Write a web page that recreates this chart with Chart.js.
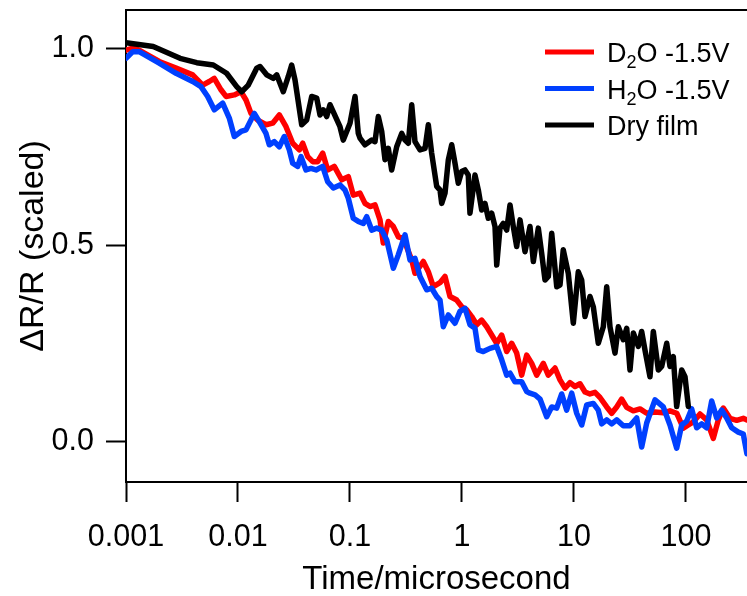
<!DOCTYPE html>
<html>
<head>
<meta charset="utf-8">
<script src="https://cdn.jsdelivr.net/npm/chart.js@4/dist/chart.umd.min.js"></script>
<style>
  html, body { margin: 0; padding: 0; background: #fff; }
  #wrap { width: 747px; height: 596px; }
</style>
</head>
<body>
<div id="wrap"><canvas id="c" width="747" height="596"></canvas></div>
<script>
// ---- Data (time in microseconds, signal = ΔR/R scaled) ----
const seriesLabels = ['D₂O -1.5V', 'H₂O -1.5V', 'Dry film'];
const seriesColors = ['#ff0000', '#0040ff', '#000000'];

const d2oTime = [
  0.001, 0.00115, 0.00131, 0.00198, 0.0028, 0.00394, 0.00484, 0.00554, 0.00614, 0.00705,
  0.00782, 0.00927, 0.01064, 0.01179, 0.01307, 0.01499, 0.01778, 0.0204, 0.02338, 0.02683,
  0.03079, 0.03527, 0.03782, 0.04192, 0.04645, 0.05148, 0.05704, 0.0632, 0.0724, 0.0843,
  0.0966, 0.107, 0.1228, 0.1361, 0.1509, 0.1672, 0.1853, 0.1983, 0.2198, 0.2436,
  0.2699, 0.2991, 0.3556, 0.3805, 0.4514, 0.5002, 0.5543, 0.6363, 0.705, 0.7816,
  0.8968, 0.9938, 1.102, 1.221, 1.353, 1.499, 1.662, 1.842, 2.04, 2.262,
  2.506, 2.778, 3.079, 3.412, 3.782, 4.192, 4.645, 5.32, 5.895, 6.768,
  7.499, 8.31, 9.21, 10.21, 11.31, 12.54, 13.9, 15.4, 17.07, 19.59,
  21.71, 24.06, 26.67, 29.55, 33.84, 38.85, 44.59, 52.87, 62.7, 71.96,
  82.6, 94.6, 104.8, 116.2, 133.4, 153, 175.3, 194.3, 215.3, 247.1,
  283.6, 324.8, 350
];
const d2oSignal = [
  0.997, 1.002, 0.997, 0.968, 0.951, 0.934, 0.908, 0.917, 0.925, 0.896,
  0.879, 0.883, 0.891, 0.870, 0.836, 0.819, 0.807, 0.811, 0.832, 0.802,
  0.760, 0.743, 0.760, 0.726, 0.713, 0.713, 0.735, 0.692, 0.701, 0.667,
  0.675, 0.628, 0.633, 0.607, 0.599, 0.603, 0.565, 0.506, 0.561, 0.548,
  0.522, 0.518, 0.463, 0.429, 0.459, 0.433, 0.395, 0.405, 0.421, 0.370,
  0.361, 0.344, 0.336, 0.319, 0.298, 0.310, 0.293, 0.272, 0.251, 0.272,
  0.230, 0.251, 0.226, 0.170, 0.221, 0.200, 0.170, 0.200, 0.170, 0.188,
  0.158, 0.137, 0.151, 0.141, 0.148, 0.127, 0.122, 0.126, 0.113, 0.089,
  0.073, 0.089, 0.109, 0.088, 0.079, 0.084, 0.073, 0.076, 0.074, 0.079,
  0.073, 0.035, 0.043, 0.051, 0.071, 0.056, 0.009, 0.056, 0.086, 0.060,
  0.055, 0.060, 0.056
];

const h2oTime = [
  0.001, 0.00115, 0.00131, 0.00198, 0.0028, 0.00394, 0.00467, 0.00536, 0.00614, 0.0073,
  0.00836, 0.00927, 0.01064, 0.01179, 0.01398, 0.01549, 0.01778, 0.01903, 0.02109, 0.02338,
  0.02591, 0.02871, 0.03079, 0.03412, 0.03652, 0.04047, 0.04486, 0.04972, 0.05704, 0.0632,
  0.07095, 0.08143, 0.09024, 0.0966, 0.107, 0.1186, 0.1315, 0.141, 0.1562, 0.1732,
  0.1919, 0.2127, 0.2436, 0.2699, 0.3098, 0.3434, 0.3805, 0.4217, 0.484, 0.5364,
  0.5944, 0.6363, 0.6808, 0.7547, 0.866, 0.9596, 1.064, 1.179, 1.307, 1.398,
  1.549, 1.778, 2.04, 2.262, 2.506, 2.683, 2.973, 3.412, 3.782, 4.047,
  4.486, 4.972, 5.704, 6.32, 7.005, 7.766, 8.606, 9.539, 10.57, 11.72,
  12.99, 14.87, 16.48, 17.67, 19.59, 21.71, 24.06, 27.55, 31.62, 36.29,
  40.23, 44.59, 52.87, 62.7, 71.96, 82.6, 91.55, 101.5, 112.4, 124.6,
  138.1, 153, 169.6, 188, 208.4, 230.9, 255.9, 293.1, 324.8, 350
];
const h2oSignal = [
  0.976, 0.993, 0.993, 0.964, 0.938, 0.917, 0.904, 0.879, 0.845, 0.862,
  0.824, 0.777, 0.790, 0.794, 0.836, 0.815, 0.785, 0.756, 0.764, 0.751,
  0.777, 0.743, 0.709, 0.701, 0.726, 0.692, 0.696, 0.692, 0.701, 0.662,
  0.646, 0.654, 0.641, 0.620, 0.569, 0.561, 0.556, 0.573, 0.539, 0.544,
  0.539, 0.514, 0.442, 0.476, 0.527, 0.463, 0.467, 0.421, 0.387, 0.391,
  0.370, 0.361, 0.293, 0.323, 0.302, 0.332, 0.340, 0.298, 0.289, 0.234,
  0.230, 0.238, 0.243, 0.209, 0.170, 0.175, 0.153, 0.153, 0.128, 0.124,
  0.120, 0.109, 0.064, 0.089, 0.086, 0.122, 0.081, 0.124, 0.073, 0.043,
  0.094, 0.098, 0.081, 0.046, 0.056, 0.046, 0.056, 0.041, 0.041, 0.061,
  -0.013, 0.048, 0.107, 0.089, 0.043, -0.016, 0.043, 0.053, 0.084, 0.036,
  0.046, 0.036, 0.104, 0.061, 0.081, 0.061, 0.036, 0.025, 0.020, -0.030
];

const dryTime = [
  0.001, 0.00175, 0.00304, 0.00428, 0.00602, 0.00791, 0.00974, 0.01079, 0.01236, 0.01469,
  0.01572, 0.01803, 0.02066, 0.02216, 0.02537, 0.02812, 0.03015, 0.03228, 0.03705, 0.04106,
  0.0455, 0.05044, 0.05398, 0.05778, 0.06194, 0.06628, 0.0814, 0.0871, 0.1, 0.1109,
  0.1186, 0.1228, 0.1361, 0.1563, 0.1672, 0.179, 0.1919, 0.2054, 0.2198, 0.2356,
  0.2612, 0.2897, 0.3098, 0.3318, 0.3556, 0.3805, 0.4217, 0.4677, 0.5003, 0.5359,
  0.5943, 0.6363, 0.6589, 0.7053, 0.7551, 0.8091, 0.866, 0.9268, 0.9933, 1.063,
  1.138, 1.178, 1.306, 1.399, 1.499, 1.604, 1.718, 1.841, 1.971, 2.042,
  2.184, 2.338, 2.506, 2.684, 2.872, 3.078, 3.296, 3.652, 4.047, 4.334,
  4.802, 5.146, 5.509, 5.9, 6.324, 7.014, 7.499, 8.02, 8.892, 9.86,
  10.92, 11.71, 12.53, 13.9, 14.87, 16.48, 18.27, 19.59, 20.95, 23.23,
  24.88, 27.57, 29.56, 31.62, 33.87, 37.5, 40.2, 43.02, 47.7, 51.07,
  56.61, 60.68, 67.3, 71.94, 77.05, 82.54, 91.55, 97.96, 104.9
];
const drySignal = [
  1.016, 1.006, 0.976, 0.965, 0.959, 0.938, 0.904, 0.891, 0.908, 0.951,
  0.955, 0.934, 0.925, 0.934, 0.891, 0.930, 0.959, 0.921, 0.807, 0.819,
  0.879, 0.875, 0.832, 0.845, 0.828, 0.858, 0.802, 0.768, 0.811, 0.879,
  0.785, 0.773, 0.756, 0.768, 0.764, 0.828, 0.790, 0.718, 0.747, 0.692,
  0.751, 0.785, 0.768, 0.760, 0.858, 0.764, 0.743, 0.747, 0.807, 0.735,
  0.650, 0.641, 0.607, 0.633, 0.718, 0.756, 0.709, 0.658, 0.688, 0.692,
  0.679, 0.582, 0.679, 0.641, 0.590, 0.607, 0.569, 0.582, 0.548, 0.450,
  0.544, 0.556, 0.539, 0.603, 0.548, 0.497, 0.565, 0.484, 0.548, 0.459,
  0.544, 0.480, 0.412, 0.421, 0.531, 0.395, 0.399, 0.489, 0.429, 0.302,
  0.433, 0.412, 0.319, 0.370, 0.344, 0.251, 0.293, 0.395, 0.293, 0.226,
  0.293, 0.260, 0.289, 0.183, 0.277, 0.243, 0.281, 0.234, 0.166, 0.281,
  0.183, 0.192, 0.251, 0.192, 0.217, 0.090, 0.183, 0.166, 0.090
];

const xTickValues = [0.001, 0.01, 0.1, 1, 10, 100];
const xTickLabels = ['0.001', '0.01', '0.1', '1', '10', '100'];
const yTickValues = [0, 0.5, 1.0];
const yTickLabels = ['0.0', '0.5', '1.0'];
const xRange = [0.001, 350.5];
const yRange = [-0.102, 1.099];
const xTitle = 'Time/microsecond';
const yTitle = 'ΔR/R (scaled)';

// ---- Build chart ----
const FONT = '"Liberation Sans", Arial, sans-serif';
const toPoints = (ts, vs) => ts.map((t, i) => ({ x: t, y: vs[i] }));
const seriesData = [toPoints(d2oTime, d2oSignal), toPoints(h2oTime, h2oSignal), toPoints(dryTime, drySignal)];
const drawOrder = [2, 1, 0];

const frameAndLegend = {
  id: 'frameAndLegend',
  afterDraw(chart) {
    const ctx = chart.ctx;
    const a = chart.chartArea;
    ctx.save();
    // top frame line
    ctx.strokeStyle = '#000';
    ctx.lineWidth = 2;
    ctx.beginPath();
    ctx.moveTo(a.left - 1, a.top);
    ctx.lineTo(a.right, a.top);
    ctx.stroke();
    // legend inside plot
    const rowY = [52, 88.5, 125];
    const big = '27px ' + FONT, small = '18px ' + FONT;
    chart.data.datasets.forEach((ds, i) => {
      const y = rowY[i];
      ctx.strokeStyle = ds.borderColor;
      ctx.lineWidth = 5;
      ctx.beginPath();
      ctx.moveTo(545, y);
      ctx.lineTo(594, y);
      ctx.stroke();
      ctx.fillStyle = '#000';
      ctx.textBaseline = 'alphabetic';
      ctx.textAlign = 'left';
      let x = 607;
      const base = y + 10;
      const parts = ds.label.split('₂');
      parts.forEach((p, k) => {
        if (k > 0) {
          ctx.font = small;
          ctx.fillText('2', x, base + 6);
          x += ctx.measureText('2').width;
        }
        ctx.font = big;
        ctx.fillText(p, x, base);
        x += ctx.measureText(p).width;
      });
    });
    ctx.restore();
  }
};

new Chart(document.getElementById('c'), {
  type: 'line',
  data: {
    datasets: seriesLabels.map((label, i) => ({
      label: label,
      data: seriesData[i],
      borderColor: seriesColors[i],
      backgroundColor: seriesColors[i],
      borderWidth: 5.5,
      pointRadius: 0,
      tension: 0,
      fill: false,
      order: drawOrder[i],
      borderJoinStyle: 'round',
      borderCapStyle: 'round'
    }))
  },
  options: {
    responsive: false,
    devicePixelRatio: 1,
    animation: false,
    events: [],
    layout: { padding: { top: 10, right: 0, bottom: 0, left: 0 } },
    plugins: { legend: { display: false }, tooltip: { enabled: false } },
    scales: {
      x: {
        type: 'logarithmic',
        position: 'bottom',
        min: xRange[0],
        max: xRange[1],
        afterBuildTicks: (s) => { s.ticks = xTickValues.map(v => ({ value: v, major: true })); },
        afterFit: (s) => { s.height = 114; s.paddingLeft = 0; s.paddingRight = 0; },
        ticks: {
          autoSkip: false,
          maxRotation: 0,
          minRotation: 0,
          padding: 17,
          color: '#000',
          font: { family: FONT, size: 30.5 },
          callback: (v, i) => xTickLabels[i]
        },
        grid: { drawOnChartArea: false, drawTicks: true, tickLength: 20, tickWidth: 2, tickColor: '#000' },
        border: { display: true, color: '#000', width: 2 },
        title: {
          display: true, text: xTitle, color: '#000',
          font: { family: FONT, size: 33, lineHeight: 1 },
          padding: { top: 0, bottom: 0 }
        }
      },
      y: {
        type: 'linear',
        min: yRange[0],
        max: yRange[1],
        afterBuildTicks: (s) => { s.ticks = yTickValues.map(v => ({ value: v })); },
        afterFit: (s) => { s.width = 126; s.paddingTop = 0; s.paddingBottom = 0; },
        ticks: {
          padding: 12,
          color: '#000',
          font: { family: FONT, size: 30.5 },
          callback: (v, i) => yTickLabels[i]
        },
        grid: { drawOnChartArea: false, drawTicks: true, tickLength: 20, tickWidth: 2, tickColor: '#000' },
        border: { display: true, color: '#000', width: 2 },
        title: {
          display: true, text: yTitle, color: '#000',
          font: { family: FONT, size: 34, lineHeight: 1.2 },
          padding: { top: 13, bottom: 0 }
        }
      }
    }
  },
  plugins: [frameAndLegend]
});
</script>
</body>
</html>
